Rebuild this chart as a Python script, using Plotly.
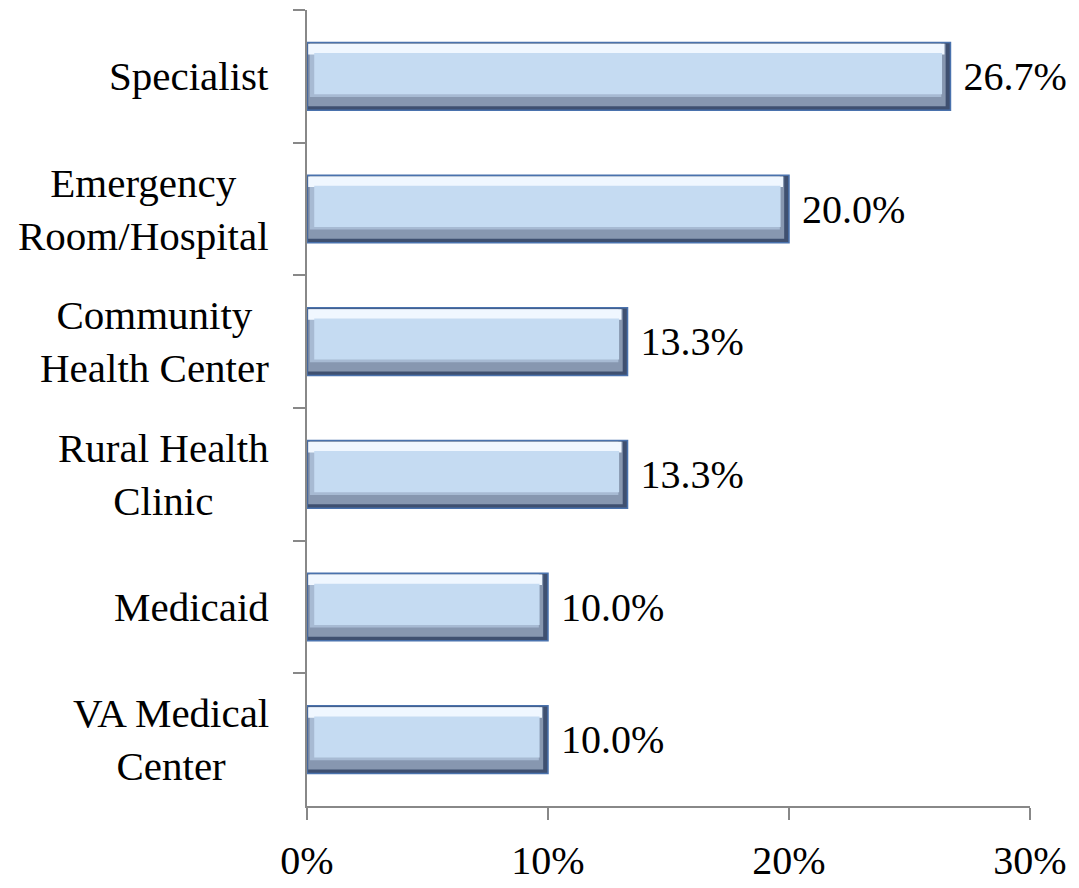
import plotly.graph_objects as go

categories = ["Specialist", "Emergency<br>Room/Hospital", "Community<br>Health Center",
              "Rural Health<br>Clinic", "Medicaid", "VA Medical<br>Center"]
values = [26.7, 20.0, 13.3, 13.3, 10.0, 10.0]
x_tickvals = [0, 10, 20, 30]
x_ticktext = ["0%", "10%", "20%", "30%"]

FONT = "Liberation Serif"
FS_CAT = 41
FS = 40

fig = go.Figure()
# outer dark bevel layer
fig.add_trace(go.Bar(
    y=categories, x=values, orientation="h", width=0.51,
    marker=dict(color="#3f5070", line=dict(color="#4a72ad", width=1.5)),
    texttemplate="\u00a0%{x:.1f}%", textposition="outside",
    textfont=dict(family=FONT, size=FS, color="black"),
    cliponaxis=False, hoverinfo="skip", showlegend=False,
))
# mid bevel band (left, bottom, right edges)
fig.add_trace(go.Bar(
    y=categories, x=[v - 0.25 for v in values], orientation="h",
    width=0.47, offset=-0.245, base=0.05,
    marker=dict(color="#8797b0", line=dict(width=0)),
    hoverinfo="skip", showlegend=False,
))
# lighter bottom band
fig.add_trace(go.Bar(
    y=categories, x=[v - 0.5 for v in values], orientation="h",
    width=0.40, offset=-0.245, base=0.12,
    marker=dict(color="#a7bad3", line=dict(width=0)),
    hoverinfo="skip", showlegend=False,
))
# top highlight
fig.add_trace(go.Bar(
    y=categories, x=[v - 0.3 for v in values], orientation="h",
    width=0.08, offset=-0.245, base=0.05,
    marker=dict(color="#f0f7ff", line=dict(width=0)),
    hoverinfo="skip", showlegend=False,
))
# main face
fig.add_trace(go.Bar(
    y=categories, x=[v - 0.65 for v in values], orientation="h",
    width=0.31, offset=-0.175, base=0.3,
    marker=dict(color="#c5dbf2", line=dict(width=0)),
    hoverinfo="skip", showlegend=False,
))

for c in categories:
    fig.add_annotation(
        x=0, xref="paper", y=c, yref="y", text=c, showarrow=False,
        xanchor="right", yanchor="middle", align="center", xshift=-36,
        font=dict(family=FONT, size=FS_CAT, color="black"),
    )

fig.update_layout(
    width=1079, height=888, barmode="overlay",
    margin=dict(l=307, r=49, t=10, b=82, autoexpand=False),
    plot_bgcolor="white", paper_bgcolor="white",
    font=dict(family=FONT, size=FS, color="black"),
)
fig.update_xaxes(
    range=[0, 30], tickvals=x_tickvals, ticktext=x_ticktext,
    showgrid=False, zeroline=False, showline=True, linecolor="#888888", linewidth=2,
    ticks="outside", ticklen=12, tickwidth=2, tickcolor="#888888",
    ticklabelstandoff=6, automargin=False,
    tickfont=dict(family=FONT, size=FS, color="black"),
)
fig.update_yaxes(
    autorange="reversed", showgrid=False, zeroline=False,
    showline=True, linecolor="#888888", linewidth=2,
    ticks="outside", ticklen=12, tickwidth=2, tickcolor="#888888",
    tickson="boundaries", showticklabels=False, automargin=False,
)
fig.write_html("out.html", config={"displayModeBar": False},
               post_script="document.body.style.margin='0';document.body.style.overflow='hidden';")
